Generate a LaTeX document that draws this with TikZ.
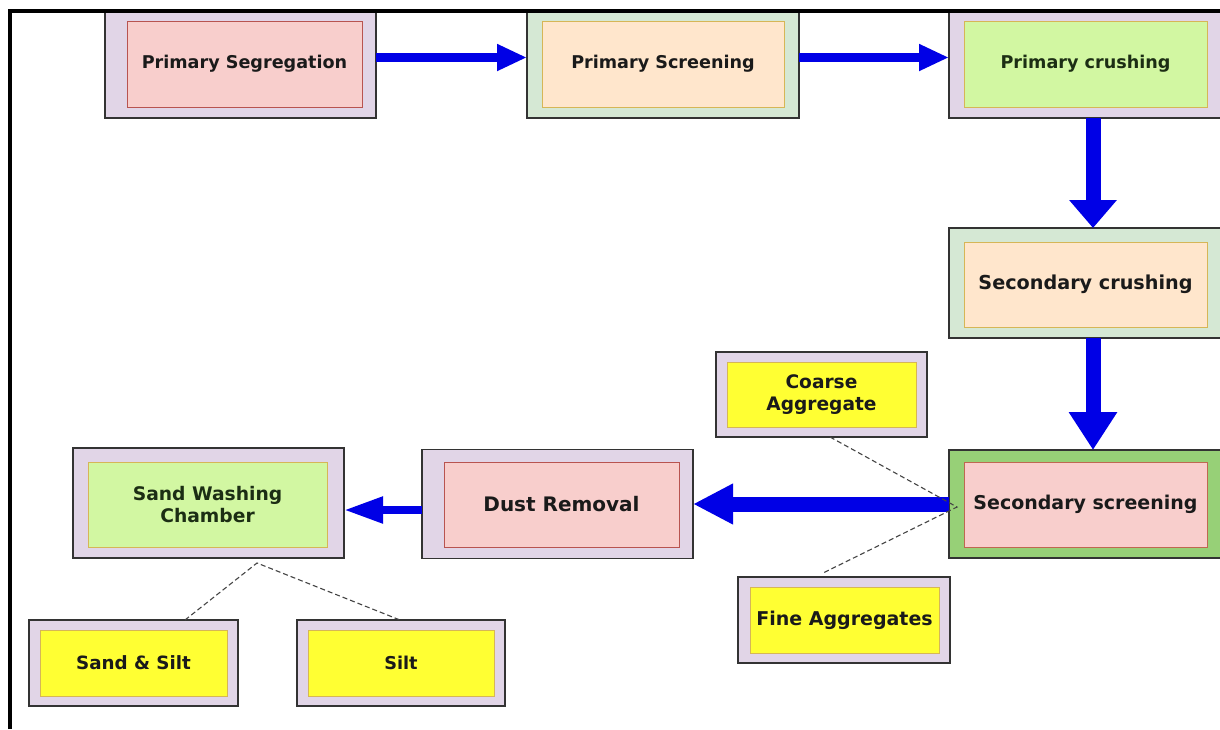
\documentclass[tikz,border=0pt]{standalone}
\usepackage{fontspec}
\setmainfont{DejaVu Sans}
\usetikzlibrary{arrows.meta}
\definecolor{lav}{HTML}{E1D5E7}
\definecolor{gry}{HTML}{D5E8D4}
\definecolor{grn}{HTML}{97D077}
\definecolor{pink}{HTML}{F8CECC}
\definecolor{pinkb}{HTML}{B85450}
\definecolor{peach}{HTML}{FFE6CC}
\definecolor{gold}{HTML}{D6B656}
\definecolor{lgrn}{HTML}{D2F7A2}
\definecolor{yel}{HTML}{FFFF33}
\definecolor{obord}{HTML}{333333}
\definecolor{txt}{HTML}{1A1A1A}
\definecolor{gtxt}{HTML}{1C2E14}
\definecolor{arrblue}{HTML}{0000E6}
\definecolor{dsh}{HTML}{444444}
\begin{document}
\begin{tikzpicture}[x=1pt,y=-1pt,
  outer/.style={rectangle, draw=obord, line width=1.3pt, fill=#1, inner sep=0pt, outer sep=0pt},
  inner/.style 2 args={rectangle, draw=#2, line width=1pt, fill=#1, inner sep=0pt, align=center, text=txt},
  fs/.style={font=\bfseries\fontsize{#1}{22}\selectfont},
  flow/.style={draw=arrblue, line width=#1},
  dotline/.style={draw=dsh, line width=1.1pt, dash pattern=on 5pt off 3pt}
]
\useasboundingbox (0,0) rectangle (1220,729);
\clip (0,0) rectangle (1220,729);
\fill[white] (0,0) rectangle (1220,729);

% outer boxes
\node[outer=lav, minimum width=271pt, minimum height=108pt] (segO) at (240.5,64) {};
\node[outer=gry, minimum width=272pt, minimum height=108pt] (scrO) at (663,64) {};
\node[outer=lav, minimum width=288pt, minimum height=108pt] (pcrO) at (1093,64) {};
\node[outer=gry, minimum width=288pt, minimum height=110pt] (scr2O) at (1093,283) {};
\node[outer=grn, minimum width=288pt, minimum height=108pt] (sscrO) at (1093,504) {};
\node[outer=lav, minimum width=271pt, minimum height=109pt] (dustO) at (557.5,504) {};
\node[outer=lav, minimum width=271pt, minimum height=110pt] (washO) at (208.5,503) {};
\node[outer=lav, minimum width=211pt, minimum height=85pt] (coarseO) at (821.5,394.5) {};
\node[outer=lav, minimum width=212pt, minimum height=86pt] (fineO) at (844,620) {};
\node[outer=lav, minimum width=209pt, minimum height=86pt] (ssO) at (133.5,663) {};
\node[outer=lav, minimum width=208pt, minimum height=86pt] (siltO) at (401,663) {};

% inner boxes with text
\node[inner={pink}{pinkb}, minimum width=235pt, minimum height=86pt, fs=17.6] (seg) at (244.5,64) {Primary Segregation};
\node[inner={peach}{gold}, minimum width=242pt, minimum height=86pt, fs=17.6] (scr) at (663,64) {Primary Screening};
\node[inner={lgrn}{gold}, minimum width=243pt, minimum height=86pt, fs=17.6, text=gtxt] (pcr) at (1085.5,64) {Primary crushing};
\node[inner={peach}{gold}, minimum width=243pt, minimum height=85pt, fs=19.2] (scr2) at (1085.5,284.5) {Secondary crushing};
\node[inner={pink}{pinkb!80!gold}, minimum width=243pt, minimum height=85pt, fs=19] (sscr) at (1085.5,504.5) {Secondary screening};
\node[inner={pink}{pinkb}, minimum width=235pt, minimum height=85pt, fs=20] (dust) at (561.5,504.5) {Dust Removal};
\node[inner={lgrn}{gold}, minimum width=239pt, minimum height=85pt, fs=18.7, text=gtxt] (wash) at (207.5,504.5) {Sand Washing\\Chamber};
\node[inner={yel}{gold}, minimum width=189pt, minimum height=65pt, fs=18.6] (coarse) at (821.5,394.5) {Coarse\\Aggregate};
\node[inner={yel}{gold}, minimum width=189pt, minimum height=66pt, fs=19] (fine) at (844.5,620) {Fine Aggregates};
\node[inner={yel}{gold}, minimum width=187pt, minimum height=66pt, fs=18.3] (ss) at (133.5,663) {Sand \& Silt};
\node[inner={yel}{gold}, minimum width=186pt, minimum height=66pt, fs=17.7] (silt) at (401,663) {Silt};

% flow arrows
\draw[flow=9pt, -{Triangle[length=30pt,width=25pt]}] ([yshift=6.5pt]segO.east) -- ([yshift=6.5pt]scrO.west);
\draw[flow=9pt, -{Triangle[length=30pt,width=25pt]}] ([yshift=6.5pt]scrO.east) -- ([yshift=6.5pt]pcrO.west);
\draw[flow=15pt, -{Triangle[length=28pt,width=46pt]}] (pcrO.south) -- (scr2O.north);
\draw[flow=15pt, -{Triangle[length=38pt,width=46pt]}] (scr2O.south) -- (sscrO.north);
\draw[flow=15pt, -{Triangle[length=40pt,width=38pt]}] (sscrO.west) -- (dustO.east);
\draw[flow=8pt, -{Triangle[length=39pt,width=25pt]}] ([yshift=-6pt]dustO.west) -- ([yshift=-7pt]washO.east);

% dashed links
\coordinate (sj) at (957,507);
\draw[dotline] ([xshift=8.5pt]coarseO.south) -- (sj) -- ([xshift=-21pt,yshift=4pt]fineO.north);
\coordinate (wj) at (257,563);
\draw[dotline] ([xshift=51.5pt]ssO.north) -- (wj) -- ([xshift=-1pt]siltO.north);

% frame
\draw[line width=4pt, black] (9.5,729) -- (9.5,10.5) -- (1220,10.5);
\end{tikzpicture}
\end{document}
